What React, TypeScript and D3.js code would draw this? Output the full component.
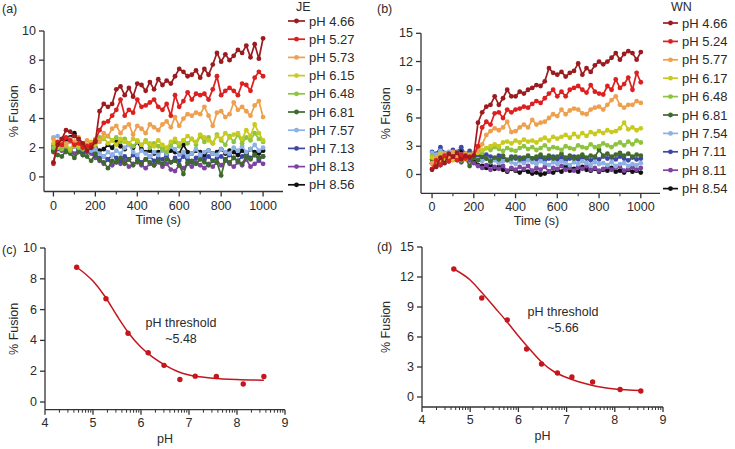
import React from 'react';
import * as d3 from 'd3';

// sampling times (s) for the fusion traces
const times = d3.range(0, 1001, 20);

const seriesColors = ['#9b1b1f', '#dd1f1f', '#eea04e', '#c8ca1f', '#8dc43f', '#3f6a2c', '#8db1e2', '#3f47a6', '#7d43a0', '#111111'];

// JE virus, % fusion per pH
const jeLabels = ['pH 4.66', 'pH 5.27', 'pH 5.73', 'pH 6.15', 'pH 6.48', 'pH 6.81', 'pH 7.57', 'pH 7.13', 'pH 8.13', 'pH 8.56'];
const je466 = [1.0, 2.2, 2.6, 3.2, 3.1, 2.8, 2.6, 2.3, 1.8, 2.0, 2.4, 4.5, 5.0, 4.8, 5.0, 6.0, 6.2, 5.6, 6.1, 5.5, 6.4, 6.3, 5.9, 6.5, 6.0, 6.7, 6.3, 6.6, 6.4, 6.9, 7.4, 7.2, 6.9, 7.0, 7.3, 6.8, 7.4, 7.0, 7.7, 8.5, 7.9, 8.4, 8.0, 8.3, 8.7, 8.5, 9.0, 8.2, 9.1, 8.1, 9.5];
const je527 = [0.9, 2.4, 2.2, 2.7, 2.5, 2.2, 2.3, 2.0, 2.1, 2.2, 2.5, 3.2, 3.7, 3.8, 4.2, 4.6, 5.3, 4.2, 4.6, 4.4, 5.3, 4.8, 4.9, 5.1, 5.3, 4.8, 4.6, 5.0, 4.2, 5.6, 4.8, 5.2, 5.8, 5.3, 5.7, 5.6, 5.7, 5.3, 6.0, 6.9, 5.6, 5.9, 6.1, 5.9, 5.6, 6.4, 6.3, 5.9, 6.8, 7.2, 6.9];
const je573 = [2.6, 2.3, 2.5, 2.2, 2.6, 2.4, 2.7, 2.3, 2.5, 2.2, 2.6, 2.4, 3.0, 2.8, 3.3, 3.5, 3.0, 3.4, 3.6, 2.9, 3.5, 3.3, 3.0, 3.6, 3.4, 3.2, 3.6, 3.8, 3.4, 4.1, 3.5, 4.0, 4.3, 4.2, 4.4, 4.3, 4.8, 4.2, 3.5, 4.4, 4.5, 4.1, 4.3, 5.1, 4.6, 4.8, 4.5, 4.2, 4.9, 5.2, 4.1];
const je615 = [2.3, 2.0, 2.5, 2.2, 1.9, 2.4, 2.1, 2.3, 2.0, 2.4, 2.2, 2.5, 2.7, 2.3, 2.5, 2.2, 2.6, 2.4, 2.3, 2.6, 2.5, 2.2, 2.4, 2.3, 2.1, 2.5, 2.2, 2.0, 2.4, 2.6, 2.3, 2.5, 2.8, 2.6, 2.4, 2.9, 2.7, 2.5, 2.3, 2.8, 2.6, 3.0, 2.7, 2.9, 3.0, 2.6, 3.2, 2.8, 3.6, 3.0, 2.5];
const je648 = [2.0, 2.3, 1.9, 2.1, 1.8, 2.2, 2.0, 1.9, 2.2, 2.1, 2.4, 2.7, 2.6, 2.8, 2.5, 2.7, 2.4, 2.6, 2.3, 2.1, 2.4, 2.2, 2.5, 2.0, 2.3, 2.1, 1.9, 1.7, 2.2, 2.4, 2.1, 2.5, 2.3, 2.6, 2.2, 2.8, 2.4, 2.7, 2.3, 2.9, 2.5, 2.2, 2.8, 2.4, 2.9, 2.3, 2.7, 2.5, 3.0, 2.6, 2.4];
const je681 = [1.7, 1.5, 1.4, 1.8, 1.6, 1.3, 1.7, 1.5, 1.4, 1.1, 1.6, 1.2, 1.0, 0.6, 1.1, 1.0, 1.3, 0.9, 1.2, 0.8, 1.1, 0.9, 1.2, 1.0, 0.8, 1.1, 0.9, 1.2, 1.0, 1.1, 0.8, 0.2, 1.0, 1.1, 0.9, 1.2, 1.0, 0.8, 1.1, 1.0, 0.1, 1.2, 1.0, 1.3, 1.1, 0.9, 1.4, 1.2, 1.5, 1.3, 1.4];
const je757 = [2.7, 2.8, 2.5, 2.3, 2.4, 2.1, 2.2, 1.9, 2.0, 1.8, 1.9, 1.6, 1.4, 1.7, 1.5, 1.8, 1.6, 2.0, 2.2, 1.7, 1.5, 1.8, 1.6, 1.4, 1.7, 1.5, 1.8, 1.6, 2.1, 1.9, 1.5, 1.7, 1.4, 1.6, 1.9, 1.5, 1.7, 1.8, 1.6, 1.5, 1.9, 1.7, 1.6, 2.0, 1.8, 2.1, 1.7, 1.9, 2.2, 1.8, 2.0];
const je713 = [2.1, 1.9, 2.2, 2.0, 1.8, 2.1, 1.9, 1.7, 2.0, 1.8, 1.5, 1.3, 1.4, 1.2, 1.5, 1.3, 1.1, 1.4, 1.2, 1.5, 1.3, 1.0, 1.2, 1.4, 1.1, 1.3, 1.2, 1.5, 1.0, 1.3, 1.1, 1.4, 1.2, 1.0, 1.3, 1.5, 1.2, 1.4, 1.1, 1.3, 1.4, 1.2, 1.5, 1.3, 1.1, 1.4, 1.6, 1.3, 1.5, 1.2, 1.4];
const je813 = [1.9, 2.0, 1.8, 1.7, 1.9, 1.6, 1.8, 1.5, 1.7, 1.6, 1.3, 1.1, 0.9, 1.2, 0.8, 1.0, 0.9, 1.1, 0.7, 0.9, 1.0, 0.8, 0.6, 0.9, 0.8, 1.0, 0.7, 0.9, 0.5, 0.4, 0.8, 0.6, 0.9, 0.7, 1.0, 0.8, 0.6, 0.9, 0.7, 1.0, 0.8, 1.1, 0.9, 0.7, 1.0, 0.8, 1.2, 0.7, 0.9, 1.1, 0.9];
const je856 = [1.8, 2.1, 2.3, 2.5, 2.7, 3.0, 2.6, 2.3, 2.1, 1.9, 2.0, 1.8, 1.9, 2.2, 2.0, 2.4, 2.1, 1.9, 2.3, 2.0, 2.4, 1.9, 1.7, 1.8, 1.6, 1.7, 1.9, 1.6, 1.8, 1.7, 1.6, 2.2, 1.7, 1.6, 1.8, 1.7, 1.5, 1.8, 1.6, 1.7, 1.9, 1.6, 1.8, 1.7, 1.5, 1.8, 1.6, 1.9, 1.7, 1.6, 1.8];
const jeSeries = [je466, je527, je573, je615, je648, je681, je757, je713, je813, je856];

// WN virus
const wnLabels = ['pH 4.66', 'pH 5.24', 'pH 5.77', 'pH 6.17', 'pH 6.48', 'pH 6.81', 'pH 7.54', 'pH 7.11', 'pH 8.11', 'pH 8.54'];
const wn466 = [0.5, 0.8, 1.8, 1.2, 2.2, 1.9, 2.3, 1.6, 2.0, 1.8, 2.0, 5.5, 6.6, 7.2, 7.4, 8.3, 7.4, 8.1, 9.0, 8.3, 8.3, 8.8, 8.6, 9.0, 9.2, 9.5, 9.4, 9.9, 11.3, 10.8, 10.6, 10.9, 10.4, 10.8, 11.0, 11.8, 10.6, 11.3, 10.9, 11.6, 12.0, 11.7, 12.0, 12.4, 12.9, 12.2, 12.8, 13.1, 12.9, 12.2, 13.0];
const wn524 = [0.6, 1.5, 1.0, 2.0, 1.4, 1.9, 1.5, 2.1, 1.7, 1.9, 2.0, 3.0, 5.0, 5.6, 5.3, 6.5, 6.6, 6.0, 6.9, 6.6, 6.9, 7.0, 7.2, 7.1, 7.5, 7.8, 7.6, 8.1, 8.6, 9.0, 8.3, 8.8, 8.3, 9.0, 9.2, 9.4, 9.0, 8.7, 9.5, 8.8, 8.6, 8.5, 9.4, 9.0, 10.1, 9.2, 9.6, 10.3, 9.0, 10.8, 9.8];
const wn577 = [1.2, 1.8, 1.5, 2.2, 1.9, 2.4, 2.0, 1.7, 2.2, 1.9, 2.3, 2.5, 3.2, 4.2, 4.6, 4.9, 4.7, 5.0, 5.6, 4.5, 4.6, 5.0, 5.3, 5.0, 5.8, 5.3, 5.5, 5.6, 6.0, 6.4, 6.2, 6.9, 6.4, 6.8, 7.0, 6.9, 6.5, 6.4, 6.9, 7.1, 7.2, 6.9, 7.4, 7.9, 8.3, 7.4, 7.1, 7.4, 7.4, 7.8, 7.6];
const wn617 = [1.8, 1.4, 2.2, 1.6, 2.0, 1.5, 2.3, 1.9, 1.6, 2.1, 2.0, 2.3, 2.6, 2.8, 3.0, 3.2, 3.0, 3.4, 3.5, 3.3, 3.6, 3.4, 3.7, 3.5, 3.6, 3.4, 3.7, 3.9, 3.6, 4.0, 3.8, 4.0, 4.2, 3.9, 4.3, 4.0, 4.4, 4.1, 4.5, 4.3, 4.6, 4.4, 4.7, 4.5, 4.6, 4.9, 5.5, 4.8, 5.0, 4.7, 4.9];
const wn648 = [2.0, 1.6, 1.9, 1.4, 2.1, 1.7, 1.9, 1.5, 1.8, 2.0, 2.1, 2.5, 2.3, 2.8, 2.6, 2.9, 2.7, 2.5, 2.8, 2.6, 2.5, 2.8, 3.0, 2.7, 2.9, 2.6, 2.8, 3.1, 2.7, 2.9, 2.8, 2.6, 3.0, 2.8, 2.7, 3.1, 2.9, 2.8, 3.2, 2.9, 3.0, 3.3, 3.1, 2.9, 3.2, 3.4, 3.1, 3.5, 3.2, 3.6, 3.4];
const wn681 = [1.6, 1.3, 1.8, 1.5, 2.0, 1.7, 1.9, 1.4, 1.7, 0.9, 1.8, 1.5, 2.0, 1.7, 1.4, 1.8, 1.6, 2.0, 1.5, 1.7, 1.9, 1.6, 1.8, 2.0, 1.7, 1.9, 2.1, 1.8, 2.0, 1.7, 1.9, 2.2, 1.8, 2.0, 1.7, 1.9, 2.1, 1.8, 2.0, 1.9, 2.6, 2.0, 2.2, 1.9, 2.1, 2.3, 2.0, 2.2, 1.9, 2.1, 2.0];
const wn754 = [2.3, 2.1, 2.5, 2.2, 2.4, 2.0, 2.3, 2.1, 1.9, 2.0, 1.8, 1.6, 1.4, 1.7, 1.3, 1.5, 1.2, 1.4, 1.6, 1.3, 1.1, 1.4, 1.2, 1.5, 1.3, 1.1, 1.4, 1.2, 1.0, 1.3, 1.1, 1.4, 1.2, 1.0, 1.3, 1.1, 1.4, 1.2, 1.0, 1.3, 1.1, 1.2, 1.0, 1.3, 0.9, 1.1, 1.2, 0.9, 1.1, 1.0, 1.2];
const wn711 = [2.4, 2.2, 2.9, 2.3, 2.1, 2.6, 2.4, 2.9, 2.2, 2.5, 1.9, 2.0, 1.8, 2.1, 1.9, 1.7, 2.0, 1.8, 1.6, 1.9, 1.7, 1.8, 1.5, 1.9, 1.7, 1.6, 1.8, 1.5, 1.7, 1.9, 1.6, 1.8, 1.5, 1.7, 1.9, 1.6, 1.8, 1.7, 1.5, 1.8, 1.6, 1.9, 1.7, 1.8, 1.6, 1.9, 1.7, 1.5, 1.8, 1.6, 1.7];
const wn811 = [1.2, 0.9, 1.5, 1.8, 1.4, 1.9, 1.6, 1.3, 1.7, 1.5, 1.2, 0.9, 0.7, 1.0, 0.5, 0.8, 0.6, 0.9, 0.4, 0.7, 0.5, 0.8, 0.6, 0.9, 0.4, 0.7, 0.5, 0.8, 0.3, 0.7, 0.6, 0.9, 0.5, 0.7, 0.4, 0.8, 0.6, 0.9, 0.5, 0.7, 0.4, 0.6, 0.8, 0.5, 0.7, 0.9, 0.4, 0.6, 0.8, 0.5, 0.7];
const wn854 = [1.2, 1.8, 1.0, 2.0, 1.5, 2.2, 1.7, 2.5, 1.9, 2.1, 1.6, 1.0, 0.9, 0.7, 1.0, 0.6, 0.8, 0.5, 0.3, 0.6, 0.4, 0.2, 0.5, 0.3, 0.1, 0.2, 0.0, 0.1, 0.3, 0.2, 0.5, 0.3, 0.9, 0.4, 0.6, 0.3, 0.8, 0.5, 0.4, 0.6, 0.3, 0.5, 0.4, 0.7, 0.3, 0.4, 0.2, 0.5, 0.3, 0.4, 0.2];
const wnSeries = [wn466, wn524, wn577, wn617, wn648, wn681, wn754, wn711, wn811, wn854];

// end-point fusion vs pH, with the fitted curve
const jePH = [4.66, 5.27, 5.73, 6.15, 6.48, 6.81, 7.13, 7.57, 8.13, 8.56];
const jeFusion = [8.75, 6.7, 4.46, 3.2, 2.38, 1.46, 1.68, 1.66, 1.17, 1.66];
const jeFitPH = [4.66, 5.0, 5.25, 5.5, 5.75, 6.0, 6.25, 6.5, 6.75, 7.0, 7.5, 8.0, 8.56];
const jeFitY = [8.75, 7.85, 6.85, 5.6, 4.45, 3.55, 2.9, 2.4, 2.0, 1.75, 1.55, 1.46, 1.42];

const wnPH = [4.66, 5.24, 5.77, 6.17, 6.48, 6.81, 7.11, 7.54, 8.11, 8.54];
const wnFusion = [12.8, 9.9, 7.7, 4.8, 3.3, 2.4, 2.0, 1.5, 0.75, 0.6];
const wnFitPH = [4.66, 5.0, 5.25, 5.5, 5.75, 6.0, 6.25, 6.5, 6.75, 7.0, 7.5, 8.0, 8.54];
const wnFitY = [12.8, 11.7, 10.4, 9.0, 7.6, 6.1, 4.7, 3.4, 2.5, 1.95, 1.2, 0.8, 0.65];

const FONT = '"Liberation Sans", Arial, Helvetica, sans-serif';
const INK = '#2a2a2a';
const AXIS = '#333';
const FIT_RED = '#c4161c';

const TimePanel = ({ series, labels, legendTitle, tag, box, yDomain, yTicks, legend }: any) => {
  const x = d3.scaleLinear().domain(box.xDomain).range([box.left, box.right]);
  const y = d3.scaleLinear().domain(yDomain).range([box.bottom, box.top]);
  const line = d3.line<number>().x((_, i) => x(times[i])).y(d => y(d));
  const order = d3.range(series.length).reverse();
  const major = [0, 200, 400, 600, 800, 1000];
  const minor = [100, 300, 500, 700, 900];
  return (
    <g fontFamily={FONT} fill={INK}>
      <text x={tag.x} y={tag.y} fontSize={12.5}>{tag.text}</text>
      {order.map(k => (
        <g key={k}>
          <path d={line(series[k]) || ''} fill="none" stroke={seriesColors[k]} strokeWidth={1.7} />
          {series[k].map((v: number, i: number) => (
            <circle key={i} cx={x(times[i])} cy={y(v)} r={2.4} fill={seriesColors[k]} />
          ))}
        </g>
      ))}
      <line x1={box.left} x2={box.left} y1={y(yDomain[1])} y2={box.bottom} stroke={AXIS} strokeWidth={1.3} />
      <line x1={box.left} x2={box.right} y1={box.bottom} y2={box.bottom} stroke={AXIS} strokeWidth={1.3} />
      {yTicks.map((t: number) => (
        <g key={t}>
          <line x1={box.left - 5} x2={box.left} y1={y(t)} y2={y(t)} stroke={AXIS} strokeWidth={1.3} />
          <text x={box.left - 8} y={y(t)} fontSize={12.5} textAnchor="end" dominantBaseline="central">{t}</text>
        </g>
      ))}
      {major.map(t => (
        <g key={t}>
          <line x1={x(t)} x2={x(t)} y1={box.bottom} y2={box.bottom + 5} stroke={AXIS} strokeWidth={1.3} />
          <text x={x(t)} y={box.bottom + 18} fontSize={12.5} textAnchor="middle">{t}</text>
        </g>
      ))}
      {minor.map(t => (
        <line key={t} x1={x(t)} x2={x(t)} y1={box.bottom} y2={box.bottom + 3} stroke={AXIS} strokeWidth={1.1} />
      ))}
      <text x={(x(0) + x(1000)) / 2} y={box.bottom + 32} fontSize={12.5} textAnchor="middle">Time (s)</text>
      <text transform={`translate(${box.yTitleX},${(box.top + box.bottom) / 2}) rotate(-90)`} fontSize={12.5}
        textAnchor="middle" dominantBaseline="central">% Fusion</text>
      <text x={legend.x} y={legend.titleY} fontSize={12.5}>{legendTitle}</text>
      {labels.map((lab: string, k: number) => {
        const cy = legend.y0 + k * legend.step;
        return (
          <g key={lab}>
            <line x1={legend.x - 8} x2={legend.x + legend.len - 8} y1={cy} y2={cy} stroke={seriesColors[k]} strokeWidth={1.7} />
            <circle cx={legend.x - 8 + legend.len / 2} cy={cy} r={2.4} fill={seriesColors[k]} />
            <text x={legend.x + legend.len - 4} y={cy} fontSize={13} dominantBaseline="central">{lab}</text>
          </g>
        );
      })}
    </g>
  );
};

const FitPanel = ({ ph, fusion, fitPH, fitY, tag, box, yDomain, yTicks, note }: any) => {
  const x = d3.scaleLinear().domain([4, 9]).range([box.left, box.right]);
  const y = d3.scaleLinear().domain(yDomain).range([box.bottom, box.top]);
  const curve = d3.line<number>().x((_, i) => x(fitPH[i])).y(d => y(d)).curve(d3.curveMonotoneX);
  const major = [4, 5, 6, 7, 8, 9];
  const minor = d3.range(4, 9).flatMap(k => d3.range(2, 10).map(m => k + Math.log10(m)));
  return (
    <g fontFamily={FONT} fill={INK}>
      <text x={tag.x} y={tag.y} fontSize={12.5} dominantBaseline="central">{tag.text}</text>
      <path d={curve(fitY) || ''} fill="none" stroke={FIT_RED} strokeWidth={1.5} />
      {ph.map((p: number, i: number) => (
        <circle key={p} cx={x(p)} cy={y(fusion[i])} r={2.7} fill={FIT_RED} />
      ))}
      <line x1={box.left} x2={box.left} y1={y(yDomain[1])} y2={box.bottom} stroke={AXIS} strokeWidth={1.3} />
      <line x1={box.left} x2={box.right} y1={box.bottom} y2={box.bottom} stroke={AXIS} strokeWidth={1.3} />
      {yTicks.map((t: number) => (
        <g key={t}>
          <line x1={box.left - 5} x2={box.left} y1={y(t)} y2={y(t)} stroke={AXIS} strokeWidth={1.3} />
          <text x={box.left - 8} y={y(t)} fontSize={12.5} textAnchor="end" dominantBaseline="central">{t}</text>
        </g>
      ))}
      {major.map(t => (
        <g key={t}>
          <line x1={x(t)} x2={x(t)} y1={box.bottom} y2={box.bottom + 5} stroke={AXIS} strokeWidth={1.3} />
          <text x={x(t)} y={box.bottom + 17} fontSize={12.5} textAnchor="middle">{t}</text>
        </g>
      ))}
      {minor.map((t, i) => (
        <line key={i} x1={x(t)} x2={x(t)} y1={box.bottom} y2={box.bottom + 3} stroke={AXIS} strokeWidth={1} />
      ))}
      <text x={(box.left + box.right) / 2} y={box.bottom + 33} fontSize={12.5} textAnchor="middle">pH</text>
      <text transform={`translate(${box.yTitleX},${(box.top + box.bottom) / 2}) rotate(-90)`} fontSize={12.5}
        textAnchor="middle" dominantBaseline="central">% Fusion</text>
      <text x={note.x} y={note.y} fontSize={12.5} textAnchor="middle">pH threshold</text>
      <text x={note.x} y={note.y + 16} fontSize={12.5} textAnchor="middle">{note.value}</text>
    </g>
  );
};

export default function App() {
  return (
    <div style={{ position: 'fixed', left: 0, top: 0 }}>
      <svg width={735} height={449} style={{ display: 'block', background: '#fff' }}>
        <TimePanel series={jeSeries} labels={jeLabels} legendTitle="JE"
          tag={{ x: 2, y: 13, text: '(a)' }}
          box={{ left: 44, right: 283, top: 31, bottom: 191.5, xDomain: [-45, 1095], yTitleX: 14 }}
          yDomain={[-1, 10]} yTicks={[0, 2, 4, 6, 8, 10]}
          legend={{ x: 296, titleY: 11, y0: 21, step: 18.2, len: 17 }} />
        <TimePanel series={wnSeries} labels={wnLabels} legendTitle="WN"
          tag={{ x: 377, y: 13, text: '(b)' }}
          box={{ left: 421, right: 660, top: 33.3, bottom: 193.3, xDomain: [-53, 1092], yTitleX: 386 }}
          yDomain={[-2, 15]} yTicks={[0, 3, 6, 9, 12, 15]}
          legend={{ x: 671, titleY: 11, y0: 23, step: 18.4, len: 15 }} />
        <FitPanel ph={jePH} fusion={jeFusion} fitPH={jeFitPH} fitY={jeFitY}
          tag={{ x: 2, y: 250, text: '(c)' }}
          box={{ left: 45, right: 285, top: 248, bottom: 409.7, yTitleX: 14 }}
          yDomain={[-0.5, 10]} yTicks={[0, 2, 4, 6, 8, 10]}
          note={{ x: 181, y: 327, value: '~5.48' }} />
        <FitPanel ph={wnPH} fusion={wnFusion} fitPH={wnFitPH} fitY={wnFitY}
          tag={{ x: 377, y: 247, text: '(d)' }}
          box={{ left: 422, right: 663, top: 247, bottom: 407, yTitleX: 386 }}
          yDomain={[-1, 15]} yTicks={[0, 3, 6, 9, 12, 15]}
          note={{ x: 563, y: 316, value: '~5.66' }} />
      </svg>
    </div>
  );
}
